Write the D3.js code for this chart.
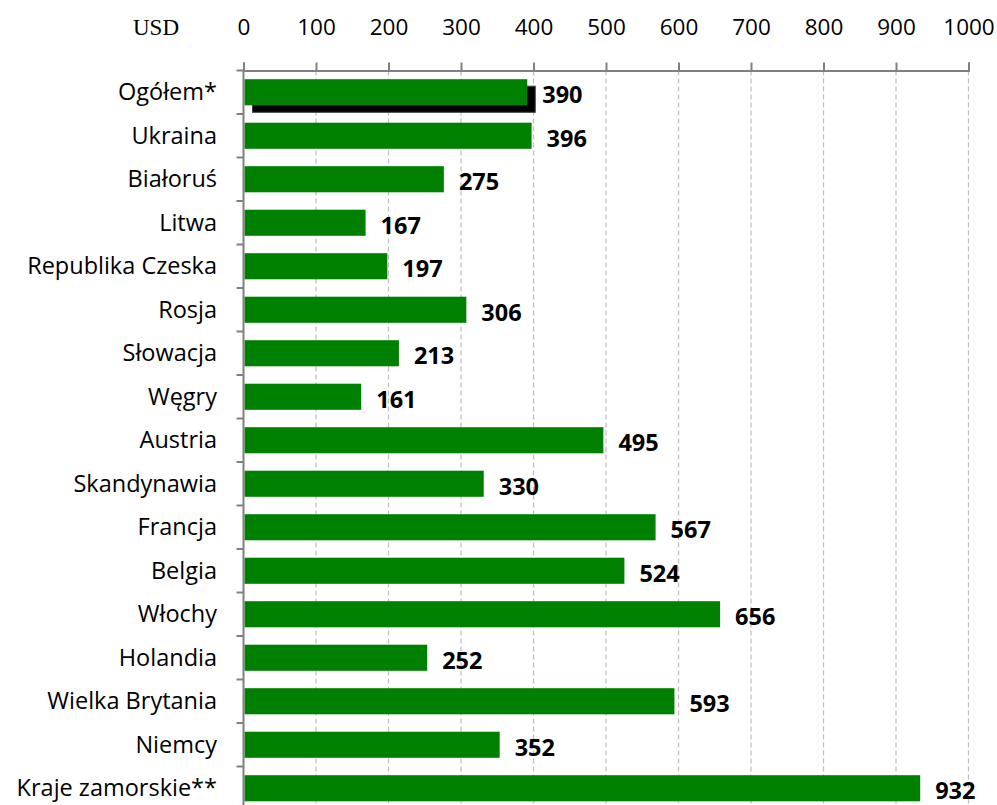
<!DOCTYPE html>
<html>
<head>
<meta charset="utf-8">
<script src="https://cdn.jsdelivr.net/npm/d3@7"></script>
<style>
    body { margin: 0; background: #fff; }
    svg { display: block; }
</style>
</head>
<body>
<svg width="997" height="805"></svg>
<script>
// data
const categories = ["Ogółem*", "Ukraina", "Białoruś", "Litwa", "Republika Czeska", "Rosja", "Słowacja", "Węgry",
    "Austria", "Skandynawia", "Francja", "Belgia", "Włochy", "Holandia", "Wielka Brytania", "Niemcy", "Kraje zamorskie**"];
const values = [390, 396, 275, 167, 197, 306, 213, 161, 495, 330, 567, 524, 656, 252, 593, 352, 932];
const xTicks = [0, 100, 200, 300, 400, 500, 600, 700, 800, 900, 1000];
const unitLabel = "USD";

const font = "'Open Sans', Lato, sans-serif";
const svg = d3.select("svg");

const plotLeft = 243.5, plotRight = 968.5, plotTop = 70.5;
const step = 43.5;
const plotBottom = plotTop + step * categories.length;

const x = d3.scaleLinear().domain([0, 1000]).range([plotLeft, plotRight]);
const y = d3.scaleBand().domain(categories).range([plotTop, plotBottom]).paddingInner(0.4).paddingOuter(0.2);

// dashed grid
svg.append("g")
    .selectAll("line")
    .data(xTicks.slice(1))
    .join("line")
    .attr("x1", d => x(d)).attr("x2", d => x(d))
    .attr("y1", plotTop).attr("y2", 805)
    .attr("stroke", "#c0c0c0")
    .attr("stroke-width", 1.3)
    .attr("stroke-dasharray", "5,3");

// shadow under the first bar
svg.append("rect")
    .attr("x", x(0) + 9)
    .attr("y", y(categories[0]) + 7)
    .attr("width", x(values[0]) - x(0))
    .attr("height", y.bandwidth())
    .attr("fill", "#000")
    .attr("stroke", "#404040")
    .attr("stroke-width", 1);

// bars
svg.append("g")
    .selectAll("rect")
    .data(values)
    .join("rect")
    .attr("x", x(0) + 1)
    .attr("y", (d, i) => y(categories[i]))
    .attr("width", d => x(d) - x(0))
    .attr("height", y.bandwidth())
    .attr("fill", "#008000");

// value labels
svg.append("g")
    .selectAll("text")
    .data(values)
    .join("text")
    .attr("x", d => x(d) + 16)
    .attr("y", (d, i) => y(categories[i]) + y.bandwidth() / 2 + 3)
    .attr("dy", "0.35em")
    .attr("font-family", font)
    .attr("font-weight", "bold")
    .attr("font-size", 23.5)
    .text(d => d);

// top axis
const xAxis = d3.axisTop(x).tickValues(xTicks).tickFormat(d3.format("d")).tickSize(8).tickPadding(28);
const gx = svg.append("g").attr("transform", `translate(0,${plotTop})`).call(xAxis);
gx.select(".domain").attr("stroke", "#808080").attr("stroke-width", 2);
gx.selectAll(".tick line").attr("stroke", "#808080").attr("stroke-width", 2);
gx.selectAll(".tick text").attr("font-family", font).attr("font-size", 22.5).attr("fill", "#000");

svg.append("text")
    .attr("x", 156).attr("y", 35)
    .attr("text-anchor", "middle")
    .attr("font-family", "'Liberation Serif', 'DejaVu Serif', serif")
    .attr("font-size", 23)
    .text(unitLabel);

// left axis with ticks between categories
svg.append("line")
    .attr("x1", plotLeft).attr("x2", plotLeft)
    .attr("y1", plotTop).attr("y2", 805)
    .attr("stroke", "#808080").attr("stroke-width", 2);

svg.append("g")
    .selectAll("line")
    .data(d3.range(0, categories.length + 1))
    .join("line")
    .attr("x1", plotLeft - 7).attr("x2", plotLeft)
    .attr("y1", i => plotTop + i * step).attr("y2", i => plotTop + i * step)
    .attr("stroke", "#808080").attr("stroke-width", 2);

svg.append("g")
    .selectAll("text")
    .data(categories)
    .join("text")
    .attr("x", 217)
    .attr("y", d => y(d) + y.bandwidth() / 2)
    .attr("dy", "0.35em")
    .attr("text-anchor", "end")
    .attr("font-family", font)
    .attr("font-size", 23.5)
    .text(d => d);
</script>
</body>
</html>
